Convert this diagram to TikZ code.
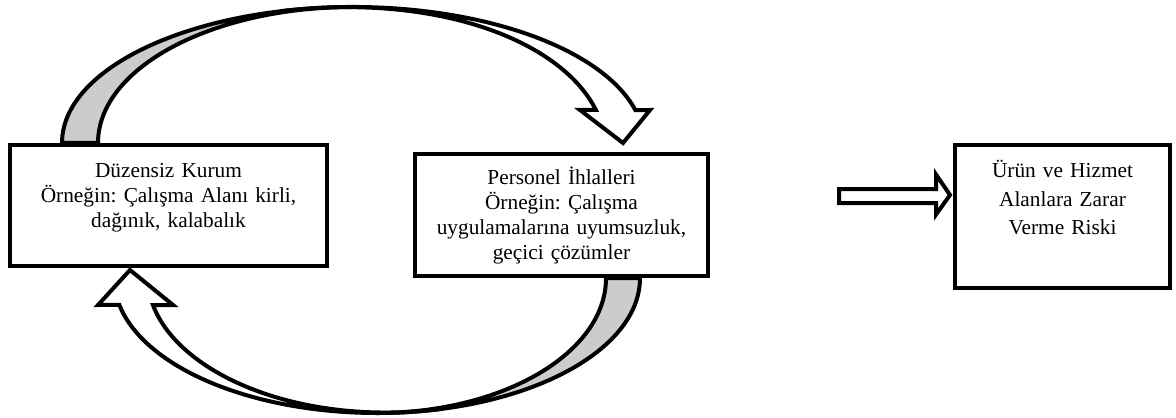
\documentclass[tikz,border=0pt]{standalone}
\usepackage{fontspec}
\setmainfont{Liberation Serif}
\definecolor{backface}{gray}{0.8}
\frenchspacing

\begin{document}
\begin{tikzpicture}[x=0.75pt,y=-0.75pt,line width=3pt,
 box/.style={draw,fill=white,rectangle,inner sep=0pt},
 boxtext/.style={align=center,inner sep=0pt,anchor=base,font=\fontsize{16}{18.75}\selectfont}]
\useasboundingbox (0,0) rectangle (1176,417);
\draw[fill=backface] (62,143) arc[x radius=291,y radius=136,start angle=-180,end angle=-90]
 arc[x radius=255,y radius=136,start angle=-90,end angle=-180] -- cycle;
\draw[fill=white] (280.1,11.3) arc[x radius=291,y radius=136,start angle=-104.5,end angle=-14]
 -- (650,110) -- (623,143) -- (580,110) -- (595.9,110)
 .. controls (560.9,40) and (435.7,-7.5) .. cycle;
\draw[fill=backface] (640,278) arc[x radius=263,y radius=135,start angle=0,end angle=90]
 arc[x radius=229,y radius=135,start angle=90,end angle=0] -- cycle;
\draw[fill=white] (442.9,408.7) arc[x radius=263,y radius=135,start angle=75.5,end angle=168.5]
 -- (98,305) -- (130,270) -- (173,305) -- (153,305)
 .. controls (179.3,375.2) and (302.3,427.4) .. cycle;
\node[box,minimum width=237.75pt,minimum height=90.75pt] (kurum) at (168.5,205.5) {};
\node[boxtext,text width=230pt] (kurumtext) at ([yshift=-25.9pt]kurum.north)
 {Düzensiz Kurum\\Örneğin: Çalışma Alanı kirli,\\dağınık, kalabalık};
\node[box,minimum width=219.75pt,minimum height=91.5pt] (personel) at (561.5,215) {};
\node[boxtext,text width=215pt] (personeltext) at ([yshift=-24.4pt]personel.north)
 {Personel İhlalleri\\Örneğin: Çalışma\\uygulamalarına uyumsuzluk,\\geçici çözümler};
\node[box,minimum width=161.25pt,minimum height=107.25pt] (risk) at (1062.5,216.5) {};
\node[boxtext,text width=155pt,font=\fontsize{16}{21.5}\selectfont] (risktext) at ([yshift=-25.9pt]risk.north)
 {Ürün ve Hizmet\\Alanlara Zarar\\Verme Riski};
\coordinate (ucu) at (950,195);
\draw (839,189) -- (936,189) -- (936,174.5) -- (ucu) -- (936,214.5) -- (936,203) -- (839,203) -- cycle;
\end{tikzpicture}
\end{document}
